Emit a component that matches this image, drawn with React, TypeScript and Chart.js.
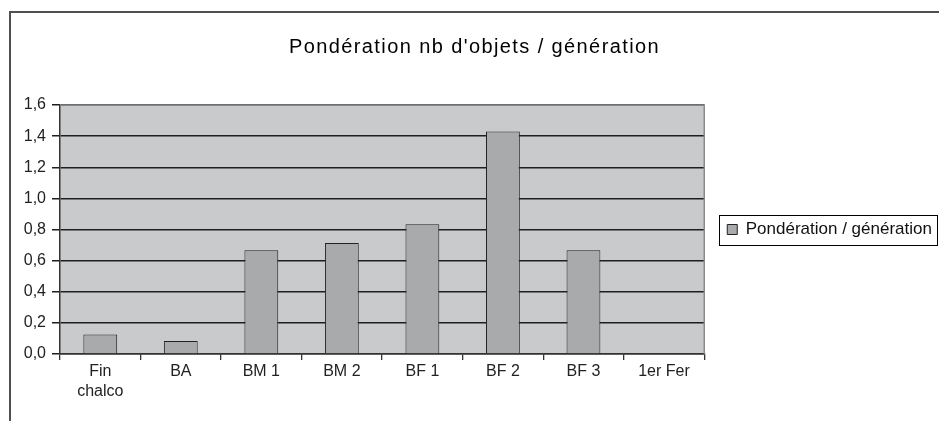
import React, { useEffect, useRef } from "react";
import { Chart, registerables } from "chart.js";

Chart.register(...registerables);

const chartTitle = "Pondération nb d'objets / génération";
const seriesLabel = "Pondération / génération";
const categories: (string | string[])[] = [["Fin", "chalco"], "BA", "BM 1", "BM 2", "BF 1", "BF 2", "BF 3", "1er Fer"];
const values = [0.125, 0.083, 0.667, 0.714, 0.833, 1.429, 0.667, 0];
const yMin = 0;
const yMax = 1.6;
const yStep = 0.2;

const FONT = "'Liberation Sans', Arial, sans-serif";

function withSpacing(box: any, spacing: string) {
  if (!box || box.__spaced) return;
  const orig = box.draw.bind(box);
  box.draw = (...args: any[]) => {
    const ctx = box.ctx;
    ctx.save();
    try {
      ctx.letterSpacing = spacing;
    } catch (e) {}
    orig(...args);
    ctx.restore();
  };
  box.__spaced = true;
}

const decor = {
  id: "decor",
  afterLayout(chart: any) {
    withSpacing(chart.titleBlock, "1.4px");
  },
  beforeDraw(chart: any) {
    const { ctx, chartArea: a } = chart;
    ctx.save();
    ctx.fillStyle = "#ffffff";
    ctx.fillRect(0, 0, chart.width, chart.height);
    ctx.strokeStyle = "#505050";
    ctx.lineWidth = 2;
    ctx.strokeRect(10, 12, chart.width + 20, chart.height + 20);
    ctx.fillStyle = "#c9cacc";
    ctx.fillRect(a.left, a.top, a.right - a.left, a.bottom - a.top);
    ctx.restore();
  },
  afterDraw(chart: any) {
    const { ctx, chartArea: a } = chart;
    ctx.save();
    ctx.strokeStyle = "#8a8a8a";
    ctx.lineWidth = 1.5;
    ctx.beginPath();
    ctx.moveTo(a.left, a.top);
    ctx.lineTo(a.right, a.top);
    ctx.lineTo(a.right, a.bottom);
    ctx.stroke();
    const hb = chart.legend && chart.legend.legendHitBoxes && chart.legend.legendHitBoxes[0];
    if (hb) {
      ctx.strokeStyle = "#000";
      ctx.lineWidth = 1;
      const cy = hb.top + hb.height / 2;
      const left = Math.round(hb.left - 8) + 0.5;
      ctx.strokeRect(left, Math.round(cy - 15) + 0.5, Math.min(220, chart.width - 1.5 - left), 30);
    }
    ctx.restore();
  },
};

export default function App() {
  const ref = useRef<HTMLCanvasElement | null>(null);
  useEffect(() => {
    if (!ref.current) return;
    Chart.defaults.font.family = FONT;
    const chart = new Chart(ref.current, {
      type: "bar",
      data: {
        labels: categories,
        datasets: [
          {
            label: seriesLabel,
            data: values,
            backgroundColor: "#a9aaac",
            borderColor: "#222",
            borderWidth: 1,
            categoryPercentage: 1,
            barPercentage: 0.42,
          },
        ],
      },
      options: {
        responsive: false,
        animation: false,
        layout: { padding: { left: 15, top: 20, right: 5, bottom: 17 } },
        plugins: {
          title: {
            display: true,
            text: chartTitle,
            color: "#000",
            font: { family: FONT, size: 20, weight: "normal" },
            padding: { top: 15, bottom: 46 },
          },
          legend: {
            position: "right",
            align: "center",
            fullSize: false,
            labels: {
              boxWidth: 10,
              boxHeight: 10,
              padding: 23,
              color: "#111",
              font: { family: FONT, size: 17 },
            },
          },
          tooltip: { enabled: false },
        },
        scales: {
          x: {
            offset: true,
            grid: { display: true, drawOnChartArea: false, drawTicks: true, tickLength: 6, color: "#333", lineWidth: 1.3, offset: true },
            border: { display: true, color: "#333", width: 1.5 },
            ticks: { color: "#222", font: { family: FONT, size: 16, lineHeight: 1.25 }, padding: 2, maxRotation: 0, autoSkip: false },
          },
          y: {
            min: yMin,
            max: yMax,
            afterFit(scale: any) {
              scale.width = 45;
            },
            grid: { color: "#1e1e1e", lineWidth: 1.5, tickLength: 8 },
            border: { display: true, color: "#333", width: 1.5 },
            ticks: {
              stepSize: yStep,
              color: "#222",
              font: { family: FONT, size: 16 },
              padding: 6,
              callback: (v: any) => Number(v).toFixed(1).replace(".", ","),
            },
          },
        },
      },
      plugins: [decor],
    });
    return () => chart.destroy();
  }, []);
  return (
    <div style={{ position: "fixed", left: 0, top: 0, width: 939, height: 421 }}>
      <canvas ref={ref} width={939} height={421} style={{ display: "block" }} />
    </div>
  );
}
